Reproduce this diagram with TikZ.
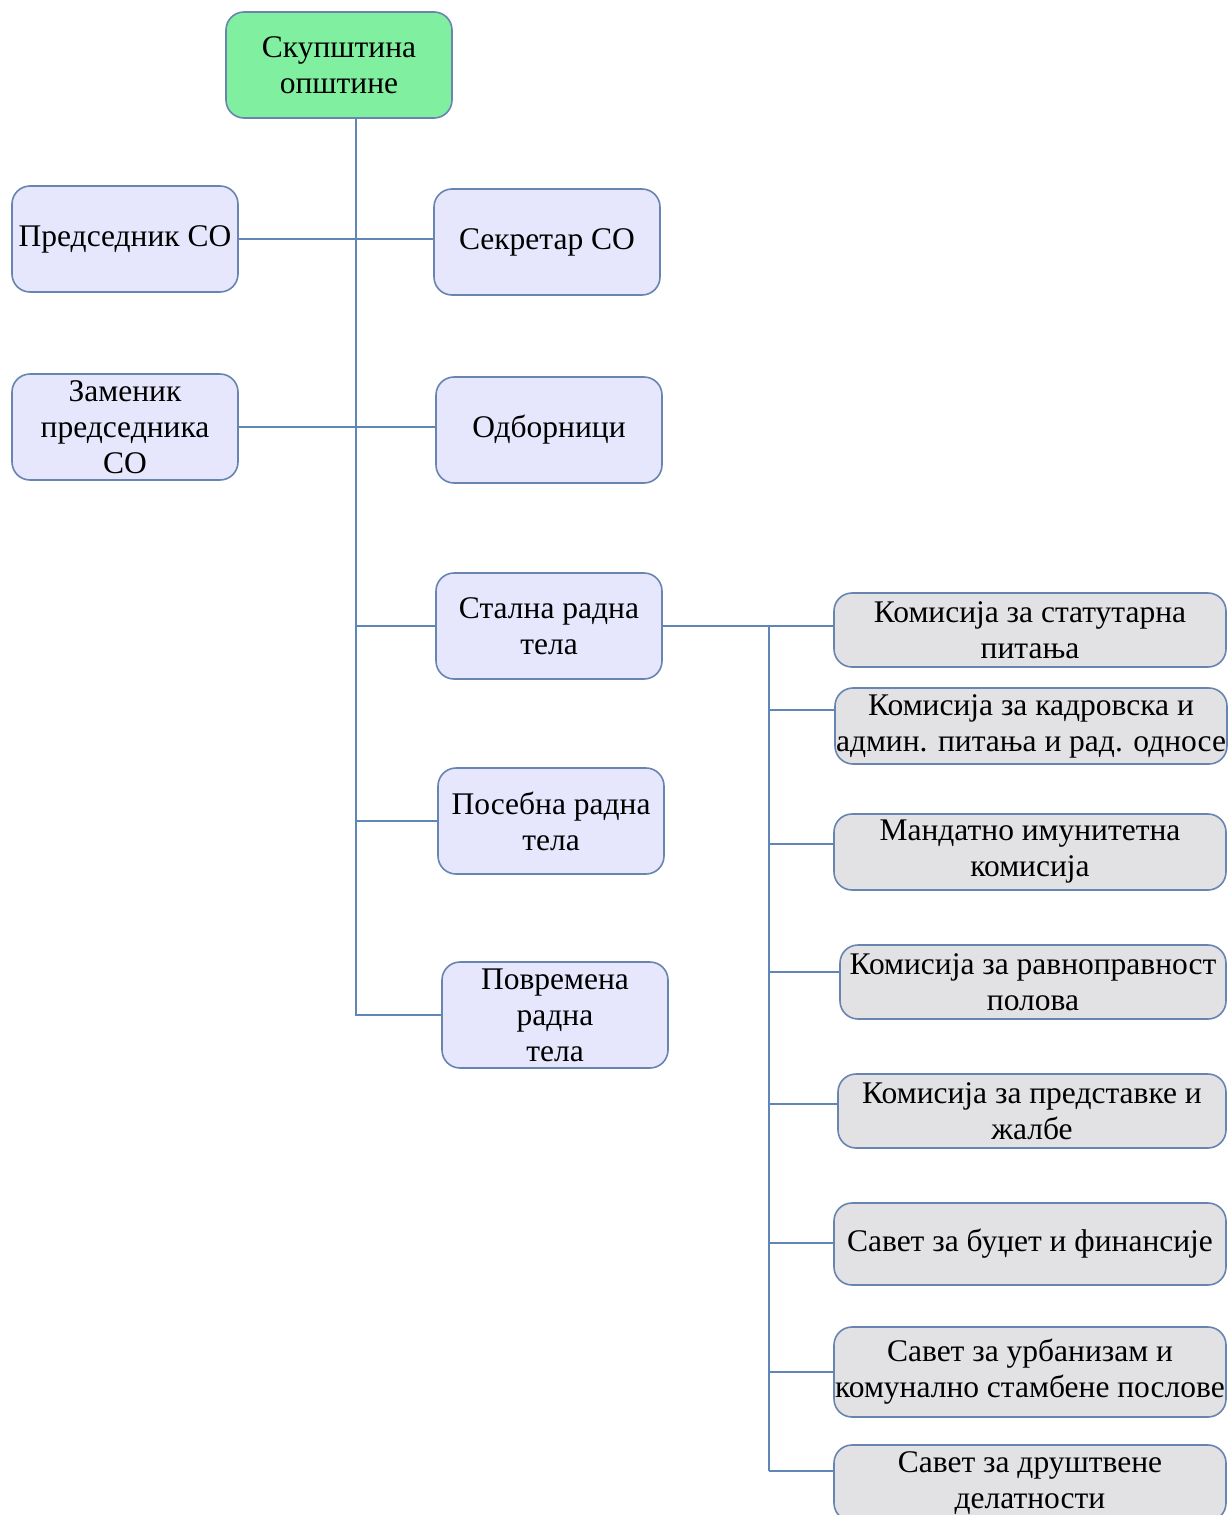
\documentclass[tikz,border=0pt]{standalone}
\usepackage{fontspec}
\setmainfont{Liberation Serif}
\usetikzlibrary{positioning}
\definecolor{topgreen}{RGB}{128,240,160}
\definecolor{lavbox}{RGB}{230,230,252}
\definecolor{graybox}{RGB}{226,226,228}
\definecolor{boxline}{RGB}{104,132,176}
\definecolor{linkblue}{RGB}{96,134,184}

\begin{document}
\begin{tikzpicture}[x=1pt,y=-1pt,
		box/.style={draw=boxline, line width=1.6pt, rounded corners=18pt, fill=lavbox,
			minimum width=226pt, minimum height=106pt, align=center, inner sep=1pt,
			font=\fontsize{31.5}{36}\selectfont},
		topbox/.style={box, fill=topgreen},
		subbox/.style={box, fill=graybox, minimum width=392pt, minimum height=74pt},
		link/.style={draw=linkblue, line width=1.8pt}]
		\useasboundingbox (0,0) rectangle (1228,1515);
		
		% main column
		\node[topbox] (skup) at (339,65) {Скупштина\\општине};
		\node[box] (pred) at (125,239) {Председник СО};
		\node[box] (sekr) at (547,242) {Секретар СО};
		\node[box] (zam) at (125,427) {Заменик\\председника\\СО};
		\node[box] (odb) at (549,430) {Одборници};
		\node[box] (stal) at (549,626) {Стална радна\\тела};
		\node[box] (pos) at (551,821) {Посебна радна\\тела};
		\node[box] (povr) at (555,1015) {Повремена\\радна\\тела};
		
		% standing bodies
		\node[subbox] (k1) at (1030,630) {Комисија за статутарна\\питања};
		\node[subbox, minimum height=76pt] (k2) at (1031,726) {Комисија за кадровска и\\админ. питања и рад. односе};
		\node[subbox, minimum height=76pt] (k3) at (1030,852) {Мандатно имунитетна\\комисија};
		\node[subbox, minimum width=386pt] (k4) at (1033,982) {Комисија за равноправност\\полова};
		\node[subbox, minimum width=388pt] (k5) at (1032,1111) {Комисија за представке и\\жалбе};
		\node[subbox, minimum height=82pt] (k6) at (1030,1244) {Савет за буџет и финансије};
		\node[subbox, minimum height=90pt] (k7) at (1030,1372) {Савет за урбанизам и\\комунално стамбене послове};
		\node[subbox, minimum height=76pt] (k8) at (1030,1483) {Савет за друштвене\\делатности};
		
		% connectors
		\coordinate (trunk) at ([xshift=17pt]skup.south);
		\draw[link] (trunk) -- (trunk |- povr.west) -- (povr.west);
		\draw[link] (pred.east) -- (pred.east -| sekr.west);
		\draw[link] (zam.east) -- (zam.east -| odb.west);
		\draw[link] (trunk |- stal.west) -- (stal.west);
		\draw[link] (trunk |- pos.west) -- (pos.west);
		
		\coordinate (rbus) at ([xshift=106pt]stal.east);
		\draw[link] (stal.east) -- (stal.east -| k1.west);
		\foreach \k/\up in {k2/16,k3/8,k4/10,k5/7,k6/1,k7/0,k8/12}{
			\coordinate (e\k) at ([yshift=\up pt]\k.west);
			\draw[link] (rbus |- e\k) -- (e\k);
		}
		\draw[link] (rbus) -- (rbus |- ek8);
	\end{tikzpicture}
\end{document}
